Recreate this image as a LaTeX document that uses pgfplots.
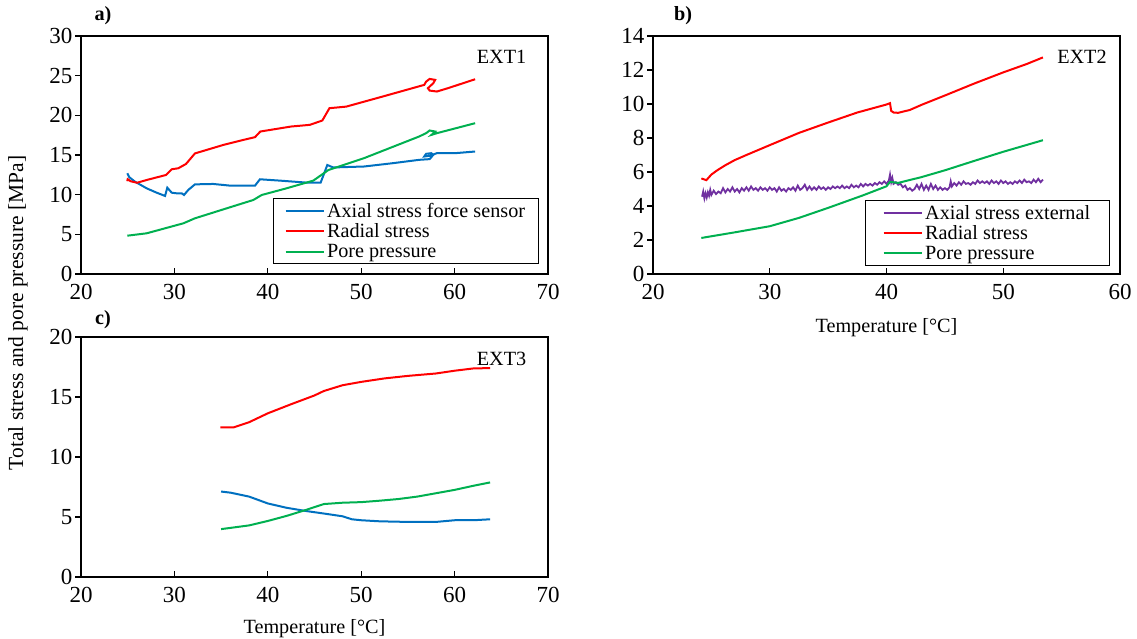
\documentclass[border=0pt]{standalone}
\usepackage{fontspec}
\setmainfont{Liberation Serif}
\usepackage{pgfplots}
\pgfplotsset{compat=1.18}
\definecolor{cblue}{RGB}{0,112,192}
\definecolor{cred}{RGB}{255,0,0}
\definecolor{cgreen}{RGB}{0,176,80}
\definecolor{cpurple}{RGB}{112,48,160}
\newcommand{\fs}{\fontsize{20.2}{23}\selectfont}
\newcommand{\ft}{\fontsize{23}{26}\selectfont}
\pgfplotsset{panel/.style={
  scale only axis, width=467pt, height=238pt,
  axis line style={line width=1.3pt},
  tick style={black, line width=1.1pt},
  major tick length=6pt, tick align=inside,
  xtick pos=bottom, ytick pos=left,
  ytick style={xshift=-6pt},
  tick label style={font=\ft},
  xticklabel style={yshift=-7pt},
  yticklabel style={xshift=-5pt},
  /pgf/number format/assume math mode=true,
  every axis plot/.append style={line width=2pt, no markers},
  legend cell align=left,
  legend image code/.code={\draw[#1,line width=2pt] (0pt,0pt) -- (38pt,0pt);},
  legend style={draw=black, line width=1.1pt, fill=white, font=\fs,
     inner xsep=11pt, inner ysep=2pt, row sep=0pt, nodes={inner sep=2.5pt}},
  xlabel style={font=\fs, at={(axis description cs:0.5,-0.225)}, anchor=center},
}}
\begin{document}
\begin{tikzpicture}
\path[use as bounding box] (0,0) rectangle (1137pt,-639pt);
% ---------- a) ----------
\begin{axis}[panel, at={(81pt,-274pt)}, anchor=south west,
  xmin=20, xmax=70, ymin=0, ymax=30, xtick={20,30,...,70}, ytick={0,5,...,30},
  legend style={at={(0.981,0.042)}, anchor=south east}]
\addplot[cblue] coordinates {(24.96,12.7)(25.17,12.2)(25.78,11.64)(27.03,10.8)(28.1,10.25)(29.0,9.84)(29.24,10.88)(29.71,10.25)(30.24,10.17)(30.78,10.17)(31.03,9.96)(31.49,10.6)(32.2,11.3)(34.16,11.35)(35.95,11.14)(38.63,11.14)(39.16,11.94)(41.3,11.77)(44.16,11.52)(45.66,11.52)(46.37,13.74)(47.0,13.43)(50.3,13.55)(53.4,13.97)(56.2,14.39)(57.33,14.48)(57.72,15.02)(57.5,15.23)(56.95,15.15)(56.75,14.81)(57.33,14.9)(58.1,15.23)(60.06,15.23)(62.2,15.44)};
\addlegendentry{Axial stress force sensor}
\addplot[cred] coordinates {(24.95,11.7)(25.0,11.95)(25.3,11.7)(26,11.5)(27.03,11.85)(29.1,12.48)(29.71,13.2)(30.42,13.33)(31.24,13.87)(32.2,15.2)(33.45,15.64)(35.24,16.27)(37.38,16.9)(38.63,17.25)(39.2,17.96)(42.5,18.59)(44.5,18.8)(45.84,19.35)(46.6,20.9)(48.4,21.1)(52.3,22.37)(56.75,23.84)(56.95,24.25)(57.33,24.59)(57.92,24.47)(57.72,24.05)(57.14,23.42)(57.33,23.12)(58.1,23.0)(59.28,23.42)(62.2,24.55)};
\addlegendentry{Radial stress}
\addplot[cgreen] coordinates {(24.96,4.83)(27.03,5.13)(29.0,5.76)(30.96,6.39)(32.2,7.02)(35.6,8.28)(38.45,9.33)(39.35,9.96)(42.0,10.8)(44.87,11.77)(46.48,13.1)(50.3,14.6)(56.2,17.33)(56.95,17.75)(57.33,18.09)(57.92,17.96)(57.53,17.54)(58.1,17.75)(62.2,19.01)};
\addlegendentry{Pore pressure}
\node[font=\fs, anchor=east] at (axis description cs:0.961,0.912) {EXT1};
\end{axis}
% ---------- b) ----------
\begin{axis}[panel, at={(653pt,-274pt)}, anchor=south west,
  xmin=20, xmax=60, ymin=0, ymax=14, xtick={20,30,...,60}, ytick={0,2,...,14},
  xlabel={Temperature [°C]},
  legend style={at={(0.979,0.034)}, anchor=south east, inner xsep=17pt}]
\addplot[cpurple, line width=1.8pt] coordinates {(24.2,4.55)(24.3,4.85)(24.4,4.45)(24.5,4.75)(24.6,4.5)(24.7,4.8)(24.8,4.6)(24.9,4.95)(25.0,4.65)(25.2,4.9)(25.4,4.7)(25.6,4.85)(25.8,4.75)(26.0,5.05)(26.2,4.8)(26.4,5.0)(26.6,4.85)(26.8,5.1)(27.0,4.85)(27.2,5.0)(27.4,4.8)(27.6,5.05)(27.8,4.9)(28.0,5.1)(28.2,4.9)(28.4,5.15)(28.6,4.95)(28.8,5.05)(29.0,4.9)(29.2,5.1)(29.4,4.95)(29.6,5.05)(29.8,4.9)(30.0,5.1)(30.2,4.95)(30.4,5.05)(30.6,4.85)(30.8,5.1)(31.0,4.9)(31.2,5.0)(31.4,4.85)(31.6,5.05)(31.8,4.95)(32.0,5.1)(32.2,4.9)(32.4,5.2)(32.6,4.95)(32.8,5.05)(33.0,5.25)(33.2,4.95)(33.4,5.15)(33.6,4.95)(33.8,5.1)(34.0,4.95)(34.2,5.15)(34.4,5.0)(34.6,5.1)(34.8,4.95)(35.0,5.1)(35.2,5.0)(35.4,5.15)(35.6,5.05)(35.8,5.15)(36.0,5.05)(36.2,5.2)(36.4,5.05)(36.6,5.15)(36.8,5.05)(37.0,5.25)(37.2,5.1)(37.4,5.2)(37.6,5.1)(37.8,5.3)(38.0,5.15)(38.2,5.3)(38.4,5.2)(38.6,5.3)(38.8,5.2)(39.0,5.35)(39.2,5.25)(39.4,5.4)(39.6,5.3)(39.8,5.45)(40.0,5.3)(40.2,5.5)(40.3,5.85)(40.4,5.4)(40.5,5.65)(40.6,5.3)(40.8,5.4)(41.0,5.25)(41.2,5.3)(41.4,5.1)(41.6,5.2)(41.8,4.95)(42.0,5.05)(42.2,4.9)(42.4,5.0)(42.6,5.25)(42.8,5.0)(43.0,5.3)(43.2,4.95)(43.4,5.2)(43.6,4.95)(43.8,5.3)(44.0,5.0)(44.2,5.2)(44.4,4.95)(44.6,5.1)(44.8,4.95)(45.0,5.05)(45.2,4.95)(45.4,5.1)(45.5,5.45)(45.6,5.15)(45.8,5.35)(46.0,5.2)(46.2,5.4)(46.4,5.25)(46.6,5.45)(46.8,5.3)(47.0,5.35)(47.2,5.25)(47.4,5.4)(47.6,5.3)(47.8,5.5)(48.0,5.35)(48.2,5.45)(48.4,5.35)(48.6,5.45)(48.8,5.3)(49.0,5.5)(49.2,5.35)(49.4,5.45)(49.6,5.3)(49.8,5.5)(50.0,5.35)(50.2,5.45)(50.4,5.3)(50.6,5.4)(50.8,5.3)(51.0,5.45)(51.2,5.35)(51.4,5.5)(51.6,5.35)(51.8,5.55)(52.0,5.4)(52.2,5.45)(52.4,5.35)(52.6,5.55)(52.8,5.4)(53.0,5.6)(53.2,5.4)(53.4,5.55)};
\addlegendentry{Axial stress external}
\addplot[cred] coordinates {(24.14,5.62)(24.57,5.52)(25.0,5.85)(25.5,6.1)(26.2,6.4)(27.0,6.7)(28.0,7.0)(30,7.58)(32.5,8.3)(35,8.91)(37.5,9.5)(40,9.97)(40.3,10.05)(40.4,9.6)(40.6,9.5)(41,9.48)(42,9.65)(43,9.95)(45,10.5)(47.5,11.2)(50,11.86)(52,12.35)(53.4,12.74)};
\addlegendentry{Radial stress}
\addplot[cgreen] coordinates {(24.14,2.12)(27,2.45)(30,2.81)(32.5,3.3)(35,3.89)(38,4.63)(40,5.16)(40.3,5.42)(41,5.36)(43,5.7)(45,6.1)(47.5,6.65)(50,7.19)(53.4,7.87)};
\addlegendentry{Pore pressure}
\node[font=\fs, anchor=east] at (axis description cs:0.979,0.912) {EXT2};
\end{axis}
% ---------- c) ----------
\begin{axis}[panel, at={(81pt,-577pt)}, anchor=south west, height=240pt,
  xmin=20, xmax=70, ymin=0, ymax=20, xtick={20,30,...,70}, ytick={0,5,...,20},
  xlabel={Temperature [°C]},
  xlabel style={at={(axis description cs:0.5,-0.215)}}]
\addplot[cblue] coordinates {(35,7.12)(36,7.03)(38,6.7)(40,6.13)(42,5.77)(44,5.51)(46,5.29)(48,5.06)(49,4.81)(50,4.73)(52,4.64)(55,4.59)(58,4.59)(60,4.73)(62,4.73)(63.8,4.81)};
\addplot[cred] coordinates {(34.93,12.46)(36.3,12.46)(38,12.9)(40,13.64)(42.5,14.4)(45,15.13)(46,15.5)(48,15.98)(50,16.26)(52.5,16.55)(55,16.76)(58,16.96)(60,17.19)(62,17.38)(63.8,17.41)};
\addplot[cgreen] coordinates {(35,3.99)(38,4.3)(40,4.67)(42,5.09)(44,5.57)(46,6.08)(48,6.19)(50,6.24)(52,6.36)(54,6.5)(56,6.7)(58,6.98)(60,7.26)(62,7.6)(63.8,7.88)};
\node[font=\fs, anchor=east] at (axis description cs:0.961,0.908) {EXT3};
\end{axis}
% ---------- labels ----------
\node[font=\fs\bfseries] at (103pt,-16pt) {a)};
\node[font=\fs\bfseries] at (683pt,-16pt) {b)};
\node[font=\fs\bfseries] at (103pt,-320pt) {c)};
\node[font=\fontsize{21.5}{24}\selectfont, rotate=90] at (18pt,-313pt) {Total stress and pore pressure [MPa]};
\end{tikzpicture}
\end{document}
